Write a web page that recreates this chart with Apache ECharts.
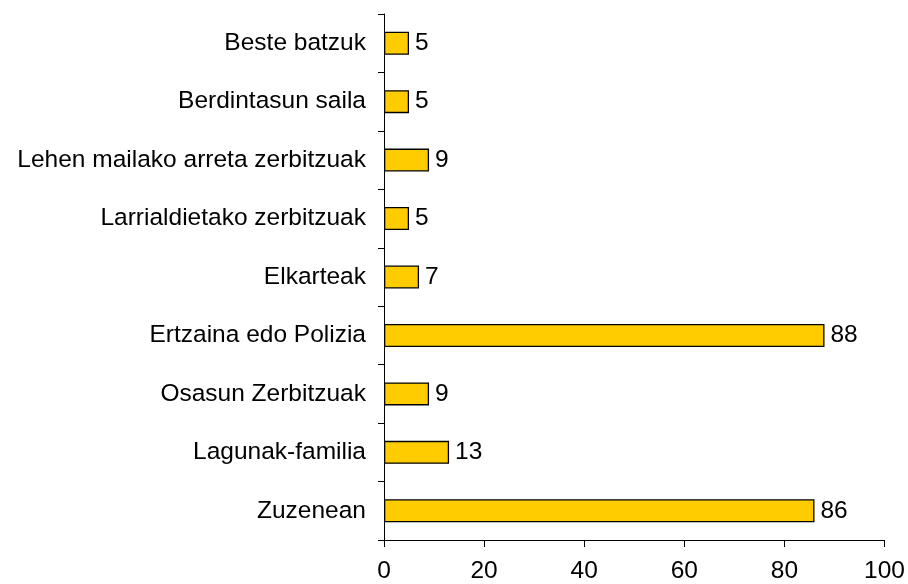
<!DOCTYPE html>
<html><head><meta charset="utf-8">
<script src="https://cdn.jsdelivr.net/npm/echarts@6/dist/echarts.min.js"></script>
<style>html,body{margin:0;padding:0;background:#fff}#c{width:908px;height:584px}</style>
</head><body><div id="c"></div>
<script>
const categories = ["Zuzenean","Lagunak-familia","Osasun Zerbitzuak","Ertzaina edo Polizia","Elkarteak","Larrialdietako zerbitzuak","Lehen mailako arreta zerbitzuak","Berdintasun saila","Beste batzuk"];
const values = [86,13,9,88,7,5,9,5,5];
const xTicks = {min:0,max:100,interval:20};
const font = "Liberation Sans, Arial, sans-serif";
const fs = 24.5;
const chart = echarts.init(document.getElementById('c'), null, {renderer:'canvas'});
chart.setOption({
  animation:false,
  backgroundColor:'#fff',
  grid:{left:384,right:22,top:14,bottom:43,containLabel:false},
  xAxis:{type:'value',min:xTicks.min,max:xTicks.max,interval:xTicks.interval,
    axisLine:{show:true,lineStyle:{color:'#000',width:1}},
    axisTick:{show:true,length:7,lineStyle:{color:'#000'}},
    splitLine:{show:false},
    axisLabel:{color:'#000',fontFamily:font,fontSize:fs,margin:19}},
  yAxis:{type:'category',data:categories,
    axisLine:{show:true,lineStyle:{color:'#000',width:1}},
    axisTick:{show:true,length:6,inside:false,lineStyle:{color:'#000'}},
    axisLabel:{color:'#000',fontFamily:font,fontSize:fs,margin:18}},
  series:[{type:'bar',data:values,barWidth:23,
    itemStyle:{color:'#FFCC00',borderColor:'#000',borderWidth:1.3},
    label:{show:true,position:'right',distance:6,color:'#000',fontFamily:font,fontSize:fs}}]
});
</script></body></html>
